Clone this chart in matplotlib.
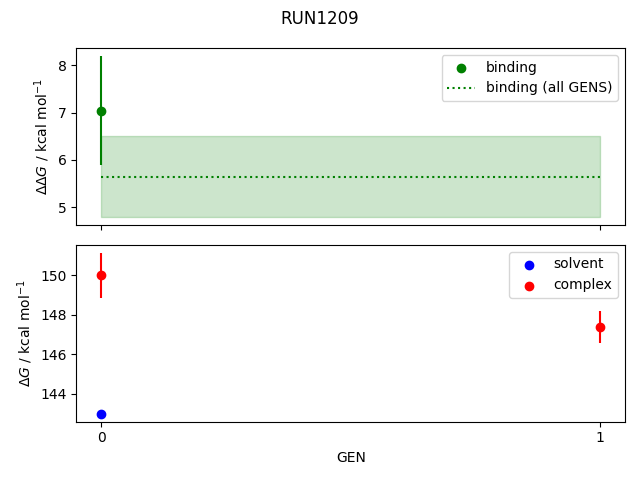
import numpy as np
import matplotlib
matplotlib.use('Agg')
import matplotlib.pyplot as plt

run_name = 'RUN1209'
gens = [0, 1]

binding_gen = [0]
binding = [7.04]
binding_err = [1.15]

binding_all = 5.65
binding_all_err = 0.85

solvent_gen = [0]
solvent = [142.98]
solvent_err = [0.0]

complex_gen = [0, 1]
complex_ = [150.0, 147.39]
complex_err = [1.14, 0.8]

fig, axes = plt.subplots(2, 1, sharex=True, figsize=(6.4, 4.8))
fig.suptitle(run_name)

ax = axes[0]
ax.scatter(binding_gen, binding, color='green', label='binding')
ax.errorbar(binding_gen, binding, yerr=binding_err, color='green', fmt='none')
ax.hlines(binding_all, gens[0], gens[-1], color='green', linestyle=':', label='binding (all GENS)')
ax.fill_between(gens, binding_all - binding_all_err, binding_all + binding_all_err,
                color='green', alpha=0.2)
ax.set_ylabel(r'$\Delta\Delta G$ / kcal mol$^{-1}$')
ax.legend()

ax = axes[1]
ax.scatter(solvent_gen, solvent, color='blue', label='solvent')
ax.errorbar(solvent_gen, solvent, yerr=solvent_err, color='blue', fmt='none')
ax.scatter(complex_gen, complex_, color='red', label='complex')
ax.errorbar(complex_gen, complex_, yerr=complex_err, color='red', fmt='none')
ax.set_ylabel(r'$\Delta G$ / kcal mol$^{-1}$')
ax.set_xlabel('GEN')
ax.set_xticks(gens)
ax.legend()

plt.tight_layout()
plt.savefig('out.png', dpi=100)
